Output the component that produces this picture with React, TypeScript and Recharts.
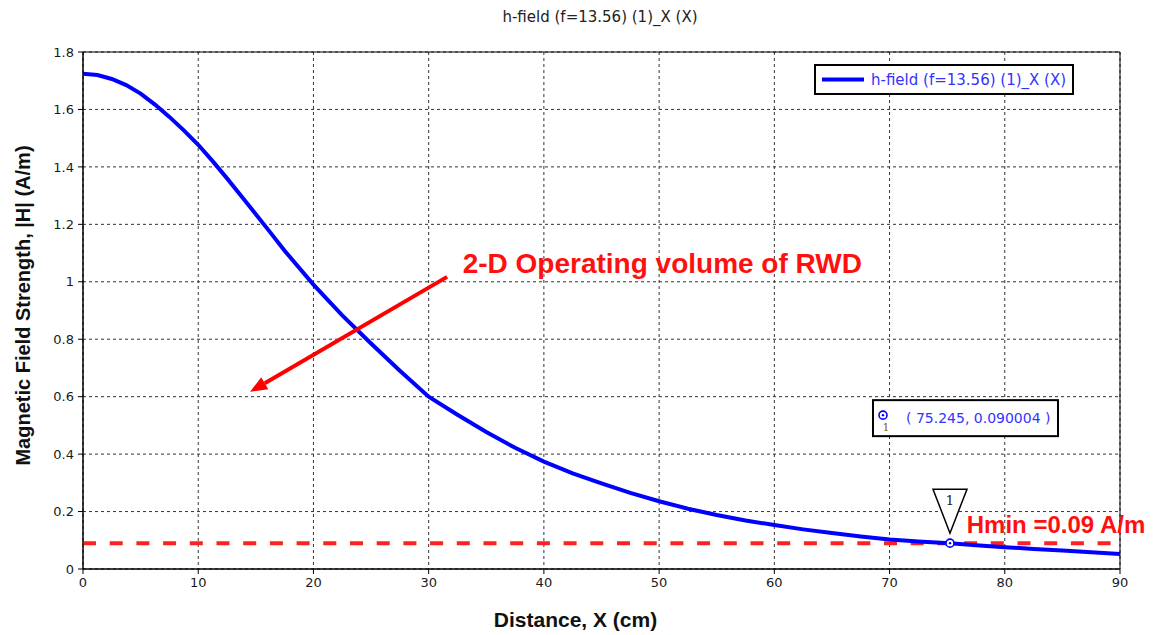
import React from "react";
import {
  LineChart,
  Line,
  XAxis,
  YAxis,
  CartesianGrid,
  ReferenceLine,
  ReferenceDot,
  ReferenceArea,
} from "recharts";

// values
const distance = [
  0, 1.25, 2.5, 3.75, 5, 6.25, 7.5, 8.75, 10, 11.25, 12.5, 13.75, 15, 16.25, 17.5, 20, 22.5, 25, 27.5,
  30, 32.5, 35, 37.5, 40, 42.5, 45, 47.5, 50, 52.5, 55, 57.5, 60, 62.5, 65, 67.5, 70, 72.5, 75.245,
  77.5, 80, 82.5, 85, 87.5, 90,
];
const hField = [
  1.724, 1.72, 1.706, 1.685, 1.655, 1.617, 1.574, 1.527, 1.477, 1.42, 1.36, 1.298, 1.235, 1.172,
  1.108, 0.99, 0.883, 0.785, 0.69, 0.6, 0.537, 0.477, 0.422, 0.374, 0.333, 0.298, 0.265, 0.236,
  0.21, 0.188, 0.169, 0.153, 0.138, 0.125, 0.113, 0.103, 0.096, 0.09, 0.083, 0.076, 0.07, 0.064,
  0.058, 0.052,
];
const xTicks = [0, 10, 20, 30, 40, 50, 60, 70, 80, 90];
const yTicks = [0, 0.2, 0.4, 0.6, 0.8, 1, 1.2, 1.4, 1.6, 1.8];

const seriesName = "h-field (f=13.56) (1)_X (X)";
const hMin = 0.09;
const marker = { x: 75.245, y: 0.090004 };
const arrowFrom = { x: 31.6, y: 1.017 };
const arrowTo = { x: 14.5, y: 0.617 };
const noteAt = { x: 32.95, y: 1.03 };
const hMinLabelAt = { x: 76.7, y: 0.125 };

const rows = distance.map((x, i) => ({ x, h: hField[i] }));

const tickFont = { fontFamily: "DejaVu Sans", fontSize: 13, fill: "#1a1a1a" };
const boldFont = "Liberation Sans, Arial, sans-serif";

const YTitle = (props: any) => {
  const vb = props.viewBox || {};
  const cx = 23;
  const cy = vb.y + vb.height / 2 - 5;
  return (
    <text
      x={cx}
      y={cy}
      transform={`rotate(-90 ${cx} ${cy})`}
      textAnchor="middle"
      dominantBaseline="central"
      fontFamily={boldFont}
      fontWeight="bold"
      fontSize={20}
      fill="#111"
    >
      Magnetic Field Strength, |H| (A/m)
    </text>
  );
};

const XTitle = (props: any) => {
  const vb = props.viewBox || {};
  return (
    <text
      x={vb.x + vb.width / 2 - 26}
      y={vb.y + 58}
      textAnchor="middle"
      fontFamily={boldFont}
      fontWeight="bold"
      fontSize={21}
      fill="#111"
    >
      Distance, X (cm)
    </text>
  );
};

const Arrow = (props: any) => {
  const { x1, y1, x2, y2 } = props;
  const ang = Math.atan2(y2 - y1, x2 - x1);
  const len = 17;
  const half = 7;
  const bx = x2 - len * Math.cos(ang);
  const by = y2 - len * Math.sin(ang);
  const px = -Math.sin(ang) * half;
  const py = Math.cos(ang) * half;
  return (
    <g>
      <line x1={x1} y1={y1} x2={bx} y2={by} stroke="#ff0000" strokeWidth={4} />
      <polygon points={`${x2},${y2} ${bx + px},${by + py} ${bx - px},${by - py}`} fill="#ff0000" />
    </g>
  );
};

const MarkerShape = (props: any) => {
  const { cx, cy } = props;
  const bx = cx - 77;
  const by = cy - 143;
  return (
    <g>
      <polygon
        points={`${cx - 17},${cy - 54} ${cx + 17},${cy - 54} ${cx},${cy - 10}`}
        fill="#fff"
        stroke="#000"
        strokeWidth={1.5}
      />
      <text x={cx} y={cy - 38} textAnchor="middle" fontFamily="DejaVu Serif" fontSize={13} fill="#222">
        1
      </text>
      <circle cx={cx} cy={cy} r={4} fill="#fff" stroke="#0000ff" strokeWidth={1.6} />
      <circle cx={cx} cy={cy} r={1.2} fill="#0000ff" />
      <rect x={bx} y={by} width={185} height={36} fill="#fff" stroke="#000" strokeWidth={2} />
      <circle cx={bx + 10} cy={by + 15} r={4} fill="#fff" stroke="#0000ff" strokeWidth={1.6} />
      <circle cx={bx + 10} cy={by + 15} r={1.2} fill="#0000ff" />
      <text x={bx + 13} y={by + 31} textAnchor="middle" fontFamily="DejaVu Serif" fontSize={11} fill="#8a5a10">
        1
      </text>
      <text x={bx + 33} y={by + 23} fontFamily="DejaVu Sans" fontSize={14} fill="#3333ff">
        {`( ${marker.x}, ${marker.y.toFixed(6)} )`}
      </text>
    </g>
  );
};

const NoteShape = (props: any) => (
  <text x={props.cx} y={props.cy} fontFamily={boldFont} fontWeight="bold" fontSize={28} fill="#ff1010">
    2-D Operating volume of RWD
  </text>
);

const HMinShape = (props: any) => (
  <text x={props.cx} y={props.cy} fontFamily={boldFont} fontWeight="bold" fontSize={24} fill="#ff1010">
    Hmin =0.09 A/m
  </text>
);

const LegendBox = () => (
  <svg width={260} height={31} style={{ display: "block" }}>
    <rect x={1} y={1} width={258} height={29} fill="#fff" stroke="#000" strokeWidth={2} />
    <line x1={8} y1={15.5} x2={50} y2={15.5} stroke="#0000ff" strokeWidth={4} />
    <text x={57} y={21} fontFamily="DejaVu Sans" fontSize={15} fill="#3333ff">
      {seriesName}
    </text>
  </svg>
);

export default function App() {
  return (
    <div style={{ position: "absolute", left: 0, top: 0, width: 1153, height: 635, background: "#fff" }}>
      <div
        style={{
          position: "absolute",
          top: 8,
          left: 0,
          width: 1200,
          textAlign: "center",
          fontFamily: "DejaVu Sans",
          fontSize: 15,
          color: "#222",
          zIndex: 2,
        }}
      >
        {seriesName}
      </div>
      <LineChart width={1153} height={635} data={rows} margin={{ top: 52, right: 33, bottom: 0, left: 0 }}>
        <CartesianGrid stroke="#333" strokeDasharray="3 3" strokeWidth={1} />
        <XAxis
          type="number"
          dataKey="x"
          domain={[0, 90]}
          ticks={xTicks}
          height={66}
          tickSize={5}
          stroke="#000"
          tick={tickFont}
          tickMargin={4}
          label={<XTitle />}
        />
        <YAxis
          type="number"
          domain={[0, 1.8]}
          ticks={yTicks}
          width={83}
          tickSize={5}
          stroke="#000"
          tick={tickFont}
          tickMargin={4}
          label={<YTitle />}
        />
        <ReferenceArea x1={0} x2={90} y1={0} y2={1.8} fill="none" stroke="#000" strokeWidth={1} />
        <ReferenceLine y={hMin} stroke="#ff2020" strokeWidth={4} strokeDasharray="13 13.7" />
        <Line
          type="linear"
          dataKey="h"
          name={seriesName}
          stroke="#0000ff"
          strokeWidth={4}
          dot={false}
          isAnimationActive={false}
        />
        <ReferenceLine
          segment={[arrowFrom, arrowTo]}
          stroke="#ff0000"
          shape={(p: any) => <Arrow {...p} />}
        />
        <ReferenceDot x={noteAt.x} y={noteAt.y} r={0} shape={(p: any) => <NoteShape {...p} />} />
        <ReferenceDot x={hMinLabelAt.x} y={hMinLabelAt.y} r={0} shape={(p: any) => <HMinShape {...p} />} />
        <ReferenceDot x={marker.x} y={marker.y} r={4} shape={(p: any) => <MarkerShape {...p} />} />
      </LineChart>
      <div style={{ position: "absolute", left: 814, top: 64 }}>
        <LegendBox />
      </div>
    </div>
  );
}
